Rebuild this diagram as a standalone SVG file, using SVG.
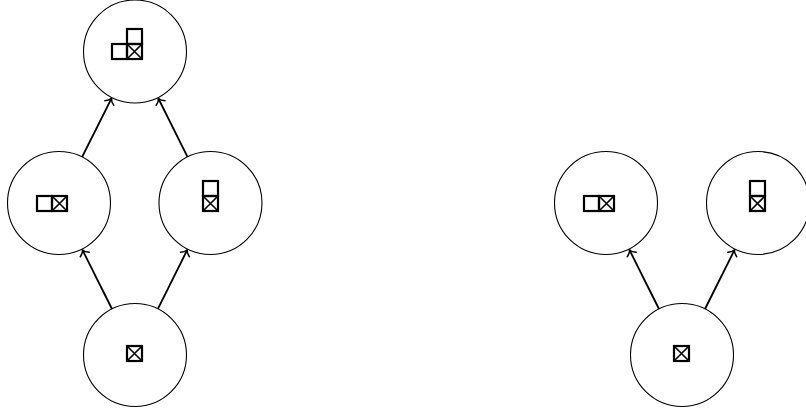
<svg xmlns="http://www.w3.org/2000/svg" xmlns:xlink="http://www.w3.org/1999/xlink" width="806" height="409" viewBox="0 0 806 409">
<style>
.node{fill:#fff;stroke:#000;stroke-width:1.1}
.edge{fill:none;stroke:#000;stroke-width:1.8}
.box{fill:none;stroke:#000;stroke-width:2.2}
.x{stroke:#000;stroke-width:1.6}
</style>
<defs>
<marker id="arr" markerUnits="userSpaceOnUse" markerWidth="14" markerHeight="14" viewBox="-7 -7 14 14" refX="0" refY="0" orient="auto" overflow="visible">
<path d="M-5,-5 C-3.6,-2.2 -1.3,-0.5 0,0 C-1.3,0.5 -3.6,2.2 -5,5" fill="none" stroke="#000" stroke-width="1.5" stroke-linecap="round"/>
</marker>
<g id="b"><rect class="box" x="0" y="0" width="15" height="15"/></g>
<g id="xb"><rect class="box" x="0" y="0" width="15" height="15"/><path class="x" d="M0,0 L15,15 M15,0 L0,15"/></g>
</defs>
<rect width="806" height="409" fill="#fff"/>
<g id="connectors">
<line class="edge" x1="112" y1="309" x2="82.5" y2="250" marker-end="url(#arr)"/>
<line class="edge" x1="157.9" y1="308.9" x2="187.2" y2="250" marker-end="url(#arr)"/>
<line class="edge" x1="82.1" y1="157" x2="111.5" y2="98.4" marker-end="url(#arr)"/>
<line class="edge" x1="187.5" y1="156.9" x2="158.4" y2="98.5" marker-end="url(#arr)"/>
<line class="edge" x1="659" y1="309" x2="629.5" y2="250" marker-end="url(#arr)"/>
<line class="edge" x1="705" y1="309" x2="734.5" y2="250" marker-end="url(#arr)"/>
</g>
<g id="n-top">
<circle class="node" cx="135" cy="51.5" r="51.5"/>
<use xlink:href="#b" x="112" y="44"/><use xlink:href="#xb" x="127" y="44"/><use xlink:href="#b" x="127" y="29"/>
</g>
<g id="n-left">
<circle class="node" cx="59" cy="203" r="51.5"/>
<use xlink:href="#b" x="37" y="196"/><use xlink:href="#xb" x="52" y="196"/>
</g>
<g id="n-right">
<circle class="node" cx="210.5" cy="203" r="51.5"/>
<use xlink:href="#b" x="203" y="181"/><use xlink:href="#xb" x="203" y="196"/>
</g>
<g id="n-bottom">
<circle class="node" cx="135" cy="355" r="51.5"/>
<use xlink:href="#xb" x="127" y="346"/>
</g>
<g id="n2-left">
<circle class="node" cx="606" cy="203" r="51.5"/>
<use xlink:href="#b" x="584" y="196"/><use xlink:href="#xb" x="599" y="196"/>
</g>
<g id="n2-right">
<circle class="node" cx="758" cy="203" r="51.5"/>
<use xlink:href="#b" x="750" y="181"/><use xlink:href="#xb" x="750" y="196"/>
</g>
<g id="n2-bottom">
<circle class="node" cx="682" cy="355" r="51.5"/>
<use xlink:href="#xb" x="674" y="346"/>
</g>
</svg>
